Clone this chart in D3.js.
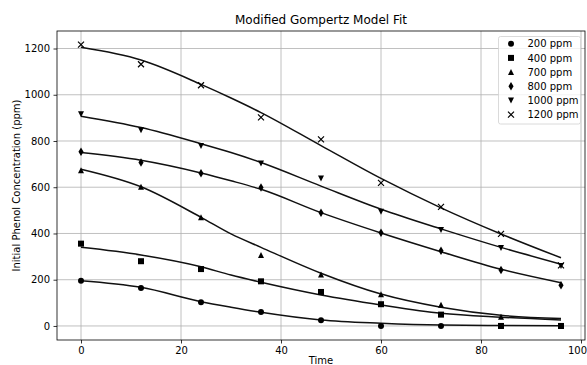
<!DOCTYPE html>
<html><head><meta charset="utf-8">
<script src="https://cdn.jsdelivr.net/npm/d3@7"></script>
<style>
html,body{margin:0;padding:0;background:#fff;}
svg{display:block;font-family:"DejaVu Sans",sans-serif;}
</style></head>
<body><svg id="c" width="587" height="365"></svg>
<script>
// ---- data ----
const times = [0, 12, 24, 36, 48, 60, 72, 84, 96];
const seriesNames = ["200 ppm", "400 ppm", "700 ppm", "800 ppm", "1000 ppm", "1200 ppm"];
const markers = ["o", "s", "^", "d", "v", "x"];
const obs200  = [196, 164, 102, 60, 25, 0, 0, 0, 0];
const obs400  = [356, 280, 246, 193, 147, 94, 49, 0, 0];
const obs700  = [674, 602, 470, 307, 223, 137, 92, 40, 0];
const obs800  = [753, 707, 660, 599, 490, 403, 325, 242, 176];
const obs1000 = [916, 847, 778, 703, 638, 494, 415, 337, 259];
const obs1200 = [1217, 1132, 1041, 902, 807, 619, 515, 398, 262];
// fitted model curves
const fitTimes = [0, 12, 24, 30, 36, 48, 60, 72, 84, 96];
const fit200  = [196, 167, 105, 81, 59, 26, 12, 4, 2, 1];
const fit400  = [340, 307, 256, 220, 189, 134, 91, 55, 38, 26];
const fit700  = [678, 602, 470, 398, 340, 228, 138, 81, 46, 32];
const fit800  = [750, 717, 662, 628, 591, 490, 402, 321, 245, 187];
const fit1000 = [907, 858, 788, 750, 707, 605, 505, 420, 340, 267];
const fit1200 = [1205, 1150, 1045, 986, 923, 780, 638, 511, 398, 295];
const xTicks = [0, 20, 40, 60, 80, 100];
const yTicks = [0, 200, 400, 600, 800, 1000, 1200];

const obs = [obs200, obs400, obs700, obs800, obs1000, obs1200];
const fits = [fit200, fit400, fit700, fit800, fit1000, fit1200];

// ---- layout ----
const W = 587;
const L = 57, R = 585, T = 31, B = 340;
const svg = d3.select("#c");
const x = d3.scaleLinear().domain([-4.8, 100.8]).range([L, R]);
const y = d3.scaleLinear().domain([-60.75, 1275.75]).range([B, T]);

// grid
const g = svg.append("g");
g.selectAll(".gx").data(xTicks).join("line")
  .attr("x1", d => x(d)).attr("x2", d => x(d)).attr("y1", T).attr("y2", B)
  .attr("stroke", "#b0b0b0").attr("stroke-width", 0.8);
g.selectAll(".gy").data(yTicks).join("line")
  .attr("y1", d => y(d)).attr("y2", d => y(d)).attr("x1", L).attr("x2", R)
  .attr("stroke", "#b0b0b0").attr("stroke-width", 0.8);

// axes
const fmt = d3.format("d");
const xAxis = d3.axisBottom(x).tickValues(xTicks).tickFormat(fmt).tickSizeInner(3.5).tickSizeOuter(0).tickPadding(3.5);
const yAxis = d3.axisLeft(y).tickValues(yTicks).tickFormat(fmt).tickSizeInner(3.5).tickSizeOuter(0).tickPadding(3.5);
const ax = svg.append("g").attr("transform", `translate(0,${B})`).call(xAxis);
const ay = svg.append("g").attr("transform", `translate(${L},0)`).call(yAxis);
[ax, ay].forEach(a => {
  a.select(".domain").remove();
  a.selectAll("line").attr("stroke", "#000").attr("stroke-width", 0.8);
  a.selectAll("text").attr("font-size", 10).attr("fill", "#000").attr("font-family", "DejaVu Sans");
});
// keep the last x tick label inside the page
ax.selectAll(".tick text").each(function(d) {
  const bb = this.getBBox();
  const right = x(d) + bb.x + bb.width;
  if (right > W - 0.5) d3.select(this).attr("dx", -(right - (W - 0.5)));
});

// lines
const line = d3.line().x(d => x(d[0])).y(d => y(d[1])).curve(d3.curveMonotoneX);
fits.forEach(f => {
  svg.append("path").datum(fitTimes.map((t, i) => [t, f[i]]))
    .attr("d", line).attr("fill", "none").attr("stroke", "#111").attr("stroke-width", 1.5);
});

// marker shapes (matplotlib-like, size 6)
function drawMarker(sel, m, cx, cy) {
  const s = 3;
  if (m === "o") {
    sel.append("circle").attr("cx", cx).attr("cy", cy).attr("r", s).attr("fill", "#000");
  } else if (m === "s") {
    sel.append("rect").attr("x", cx - s).attr("y", cy - s).attr("width", 2 * s).attr("height", 2 * s).attr("fill", "#000");
  } else if (m === "^") {
    sel.append("path").attr("d", `M${cx},${cy - s}L${cx - s},${cy + s}L${cx + s},${cy + s}Z`).attr("fill", "#000");
  } else if (m === "v") {
    sel.append("path").attr("d", `M${cx},${cy + s}L${cx - s},${cy - s}L${cx + s},${cy - s}Z`).attr("fill", "#000");
  } else if (m === "d") {
    const h = 4.24, w = 2.55;
    sel.append("path").attr("d", `M${cx},${cy - h}L${cx + w},${cy}L${cx},${cy + h}L${cx - w},${cy}Z`).attr("fill", "#000");
  } else if (m === "x") {
    sel.append("path").attr("d", `M${cx - s},${cy - s}L${cx + s},${cy + s}M${cx - s},${cy + s}L${cx + s},${cy - s}`)
      .attr("stroke", "#000").attr("stroke-width", 1.2).attr("fill", "none");
  }
}

const mg = svg.append("g");
obs.forEach((o, si) => {
  o.forEach((v, i) => drawMarker(mg, markers[si], x(times[i]), y(v)));
});

// spines
svg.append("rect").attr("x", L).attr("y", T).attr("width", R - L).attr("height", B - T)
  .attr("fill", "none").attr("stroke", "#000").attr("stroke-width", 0.8);

// title & labels
svg.append("text").attr("x", (L + R) / 2).attr("y", 24).attr("text-anchor", "middle")
  .attr("font-size", 12).attr("fill", "#000").text("Modified Gompertz Model Fit");
svg.append("text").attr("x", (L + R) / 2).attr("y", 364).attr("text-anchor", "middle")
  .attr("font-size", 10).attr("fill", "#000").text("Time");
svg.append("text").attr("transform", `translate(20,${(T + B) / 2}) rotate(-90)`).attr("text-anchor", "middle")
  .attr("font-size", 10).attr("fill", "#000").text("Initial Phenol Concentration (ppm)");

// legend
const lg = svg.append("g");
lg.append("rect").attr("x", 498.5).attr("y", 36.5).attr("width", 82).attr("height", 87.5)
  .attr("rx", 2).attr("fill", "#fff").attr("fill-opacity", 0.8).attr("stroke", "#d0d0d0").attr("stroke-width", 0.8);
seriesNames.forEach((n, i) => {
  const cy = 43.7 + i * 14.2;
  drawMarker(lg, markers[i], 511, cy);
  lg.append("text").attr("x", 527.5).attr("y", cy + 3.6).attr("font-size", 10).attr("fill", "#000").text(n);
});
</script></body></html>
